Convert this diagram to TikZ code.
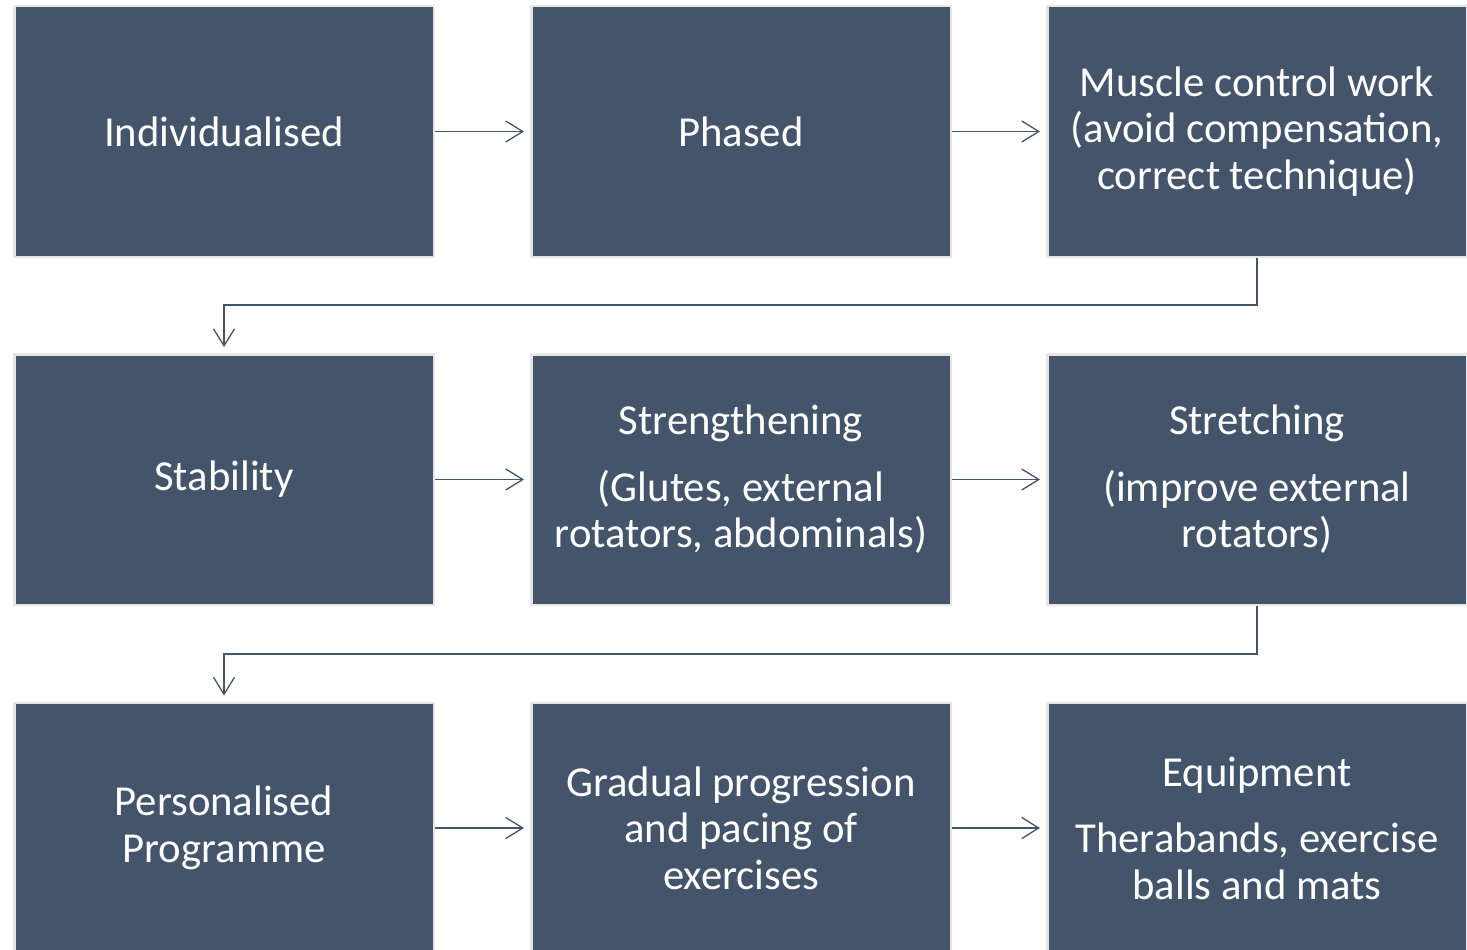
\documentclass[tikz,border=0pt]{standalone}
\usepackage{fontspec}
\setmainfont{Carlito}
\usetikzlibrary{arrows.meta}
\definecolor{boxfill}{HTML}{44546A}
\definecolor{boxline}{HTML}{E7E6E6}
\definecolor{arrowc}{HTML}{44546A}
\tikzset{
  card/.style={rectangle, draw=boxline, line width=2.5pt, fill=boxfill,
    minimum width=419.5pt, minimum height=250.5pt, inner sep=0pt,
    text=white, align=center, font=\fontsize{42.7}{46.5}\selectfont},
  flow/.style={draw=arrowc, line width=1.3pt,
    -{Straight Barb[length=17pt,width=21pt]}, shorten >=6pt}
}
\begin{document}
\begin{tikzpicture}[x=1pt,y=-1pt]
\path[use as bounding box, fill=white] (0,0) rectangle (1467,950);
\begin{scope}
\clip (0,0) rectangle (1467,950);
\node[card] (a) at (224,131.5) {Individualised};
\node[card] (b) at (741,131.5) {Phased};
\node[card] (c) at (1257,131.5) {Muscle control work\\(avoid compensation,\\correct technique)};
\node[card] (d) at (224,479.5) {Stability};
\node[card] (e) at (741,479.5) {Strengthening\\[20pt](Glutes, external\\rotators, abdominals)};
\node[card] (f) at (1257,479.5) {Stretching\\[20pt](improve external\\rotators)};
\node[card] (g) at (224,828) {Personalised\\Programme};
\node[card] (h) at (741,828) {Gradual progression\\and pacing of\\exercises};
\node[card] (i) at (1257,828) {Equipment\\[20pt]Therabands, exercise\\balls and mats};
\draw[flow] (a.east) -- (b.west);
\draw[flow] (b.east) -- (c.west);
\draw[flow] (d.east) -- (e.west);
\draw[flow] (e.east) -- (f.west);
\draw[flow] (g.east) -- (h.west);
\draw[flow] (h.east) -- (i.west);
\draw[flow] (c.south) -- ++(0,47) -| (d.north);
\draw[flow] (f.south) -- ++(0,48) -| (g.north);
\end{scope}
\end{tikzpicture}
\end{document}
